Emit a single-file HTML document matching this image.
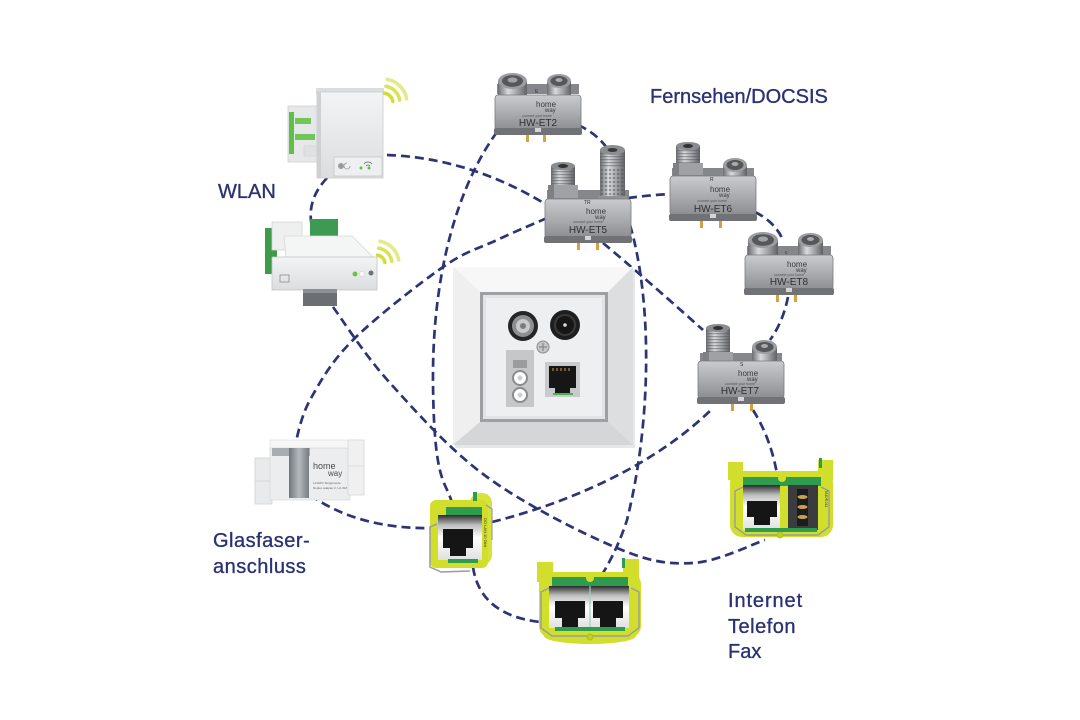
<!DOCTYPE html>
<html><head><meta charset="utf-8">
<style>
html,body{margin:0;padding:0;background:#fff;}
svg{display:block;}
text{font-family:"Liberation Sans",sans-serif;}
.lbl{font-size:20px;fill:#2b3273;stroke:#2b3273;stroke-width:0.35;}
.hw{font-size:10px;fill:#2e2f31;}
.logo{font-size:8px;fill:#3a3b3d;}
.tiny{font-size:3.5px;fill:#555;}
</style></head><body>
<svg width="1080" height="720" viewBox="0 0 1080 720" xmlns="http://www.w3.org/2000/svg">
<defs>
 <linearGradient id="bodyG" x1="0" y1="0" x2="0" y2="1">
  <stop offset="0" stop-color="#c9cbce"/><stop offset="0.55" stop-color="#a8aaad"/><stop offset="1" stop-color="#8b8d91"/>
 </linearGradient>
 <linearGradient id="cylG" x1="0" y1="0" x2="1" y2="0">
  <stop offset="0" stop-color="#6c6e72"/><stop offset="0.35" stop-color="#d8dadc"/><stop offset="0.65" stop-color="#a3a5a8"/><stop offset="1" stop-color="#5f6165"/>
 </linearGradient>
 <linearGradient id="whiteG" x1="0" y1="0" x2="0" y2="1">
  <stop offset="0" stop-color="#f3f4f5"/><stop offset="1" stop-color="#dcdddf"/>
 </linearGradient>
 <linearGradient id="rjG" x1="0" y1="0" x2="0" y2="1">
  <stop offset="0" stop-color="#2a2a2a"/><stop offset="0.22" stop-color="#bdbdbd"/><stop offset="0.5" stop-color="#ffffff"/><stop offset="1" stop-color="#e0e0e0"/>
 </linearGradient>
 <linearGradient id="bandG" x1="0" y1="0" x2="1" y2="0">
  <stop offset="0" stop-color="#6f757a"/><stop offset="0.5" stop-color="#b4babe"/><stop offset="1" stop-color="#767c81"/>
 </linearGradient>
 <pattern id="thread" width="4" height="3" patternUnits="userSpaceOnUse">
  <rect width="4" height="1.2" fill="#55585c" opacity="0.5"/>
 </pattern>
 <pattern id="knurl" width="4" height="4" patternUnits="userSpaceOnUse">
  <circle cx="2" cy="2" r="1.1" fill="#4a4a4a" opacity="0.55"/>
 </pattern>
</defs>

<!-- dashed connectors -->
<g fill="none" stroke="#2b3474" stroke-width="2.7" stroke-dasharray="9 5">
 <path d="M387,155 Q470,158 547,205"/>
 <path d="M327,178 Q306,200 312,227"/>
 <path d="M547,218 C538.7,221.7 514.3,231.8 497,240 C479.7,248.2 467,250.3 443,267 C419,283.7 375.2,317.8 353,340 C330.8,362.2 319.7,382.5 310,400 C300.3,417.5 297.5,437.5 295,445"/>
 <path d="M310,495 Q360,530 435,528"/>
 <path d="M497,132 C455,190 432,280 433,383 S446,480 452,503"/>
 <path d="M333,307 C342.5,319.7 364.3,354.7 390,383 C415.7,411.3 449.2,449.5 487,477 C524.8,504.5 582.7,533.7 617,548 C651.3,562.3 668.3,564.3 693,563 C717.7,561.7 753,543.8 765,540"/>
 <path d="M492,522 C560,505 650,470 713,408"/>
 <path d="M603,243 Q645,278 703,330"/>
 <path d="M630,225 C652,300 652,420 627,520 Q618,548 603,573"/>
 <path d="M578,125 Q596,133 607,148"/>
 <path d="M628,198 Q650,195 672,194"/>
 <path d="M755,212 Q775,222 783,240"/>
 <path d="M788,297 Q783,322 770,340"/>
 <path d="M753,410 Q772,440 778,480"/>
 <path d="M473,567 Q480,615 540,622"/>
</g>

<!-- WLAN upper module -->
<g>
 <rect x="288" y="106" width="34" height="56" fill="#e6e7e8" stroke="#d0d1d3" stroke-width="0.8"/>
 <rect x="289" y="112" width="5" height="42" fill="#5fbf4b"/>
 <rect x="295" y="118" width="16" height="6" fill="#6fc757"/>
 <rect x="295" y="134" width="20" height="6" fill="#6fc757"/>
 <rect x="304" y="146" width="14" height="10" fill="#e0e1e2" stroke="#cfd0d2" stroke-width="0.6"/>
 <rect x="316" y="88" width="68" height="6" fill="#dcdddf"/>
 <rect x="317" y="92" width="66" height="86" fill="url(#whiteG)" stroke="#cbccce" stroke-width="0.8"/>
 <rect x="317" y="92" width="4" height="86" fill="#cfd0d2"/>
 <rect x="334" y="157" width="48" height="19" fill="#eeeff0" stroke="#c8c9cb" stroke-width="0.8"/>
 <circle cx="341" cy="166" r="3" fill="#9a9b9d"/>
 <path d="M347,163 a3,3 0 1,0 3,3" fill="none" stroke="#999" stroke-width="0.8"/>
 <circle cx="361" cy="168" r="1.5" fill="#5fbf4b"/>
 <circle cx="369" cy="168" r="1.5" fill="#5fbf4b"/>
 <path d="M364,164 a5,5 0 0,1 8,0 M366,166 a2.5,2.5 0 0,1 4,0" fill="none" stroke="#666" stroke-width="0.8"/>
 <g fill="none" stroke-width="3.6" stroke-linecap="round">
  <path d="M384.7,93.2 A10,10 0 0,1 392.8,101.3" stroke="#d3dd3a"/>
  <path d="M386,86.3 A17,17 0 0,1 399.7,100" stroke="#dbe35a"/>
  <path d="M387.2,79.4 A24,24 0 0,1 406.6,98.8" stroke="#e4ea8c"/>
 </g>
</g>

<!-- WLAN lower module -->
<g>
 <rect x="265" y="228" width="12" height="46" fill="#3f9a4a"/>
 <rect x="272" y="222" width="30" height="28" fill="#eef0f0" stroke="#d3d4d6" stroke-width="0.8"/>
 <rect x="310" y="219" width="28" height="20" fill="#3c9a52"/>
 <polygon points="284,236 352,236 374,258 286,258" fill="#f4f5f5" stroke="#d6d7d9" stroke-width="0.8"/>
 <rect x="272" y="257" width="105" height="33" fill="url(#whiteG)" stroke="#c3c4c6" stroke-width="0.8"/>
 <rect x="303" y="289" width="34" height="17" fill="#6b6e72"/>
 <rect x="303" y="289" width="34" height="4" fill="#8c8f93"/>
 <rect x="280" y="275" width="9" height="7" fill="none" stroke="#8a8b8d" stroke-width="0.8"/>
 <circle cx="355" cy="274" r="2.5" fill="#6cc24a"/>
 <circle cx="362" cy="274" r="2.5" fill="#ffffff" stroke="#d0d0d0" stroke-width="0.6"/>
 <circle cx="371" cy="273" r="2.5" fill="#6e7073"/>
 <g fill="none" stroke-width="3.6" stroke-linecap="round">
  <path d="M377.6,255.1 A9,9 0 0,1 384.9,262.4" stroke="#d3dd3a"/>
  <path d="M378.8,248.2 A16,16 0 0,1 391.8,261.2" stroke="#dbe35a"/>
  <path d="M380,241.3 A23,23 0 0,1 398.7,260" stroke="#e4ea8c"/>
 </g>
</g>

<!-- Wall socket -->
<g>
 <rect x="455" y="270" width="180" height="178" fill="#d6d7d9" opacity="0.6"/>
 <rect x="453" y="267" width="180" height="178" rx="3" fill="#e9eaeb"/>
 <polygon points="453,267 633,267 608,292 480,292" fill="#f7f7f8"/>
 <polygon points="453,267 480,292 480,422 453,445" fill="#efeff0"/>
 <polygon points="633,267 633,445 608,422 608,292" fill="#dddee0"/>
 <polygon points="453,445 633,445 608,422 480,422" fill="#d5d6d8"/>
 <rect x="480" y="292" width="128" height="130" fill="#9d9fa2"/>
 <rect x="483" y="295" width="122" height="124" fill="#e2e3e4"/>
 <rect x="486" y="298" width="116" height="118" fill="#eeeff0"/>
 <circle cx="523" cy="326" r="15" fill="#262626"/>
 <circle cx="523" cy="326" r="11" fill="#8e8f91"/>
 <circle cx="523" cy="326" r="7" fill="#c8c9ca"/>
 <circle cx="523" cy="326" r="3" fill="#7a7b7d"/>
 <circle cx="565" cy="325" r="15" fill="#1e1e1e"/>
 <circle cx="565" cy="325" r="11" fill="#3a3a3a"/>
 <circle cx="565" cy="325" r="9" fill="#161616"/>
 <circle cx="565" cy="325" r="1.8" fill="#dddddd"/>
 <circle cx="543" cy="347" r="6" fill="#c4c5c7" stroke="#8b8c8e" stroke-width="1"/>
 <path d="M539,347 h8 M543,343 v8" stroke="#7a7b7d" stroke-width="1"/>
 <rect x="506" y="350" width="28" height="57" fill="#c5c7c9"/>
 <rect x="513" y="360" width="14" height="8" fill="#9a9b9d"/>
 <circle cx="520" cy="378" r="7" fill="#ffffff" stroke="#8a8b8d" stroke-width="2"/>
 <circle cx="520" cy="378" r="2.5" fill="#cfcfcf"/>
 <circle cx="520" cy="395" r="7" fill="#ffffff" stroke="#8a8b8d" stroke-width="2"/>
 <circle cx="520" cy="395" r="2.5" fill="#cfcfcf"/>
 <rect x="545" y="362" width="35" height="35" fill="#c9cacc"/>
 <path d="M549,366 h27 v22 h-6 v5 h-15 v-5 h-6 z" fill="#161616"/>
 <path d="M553,368 v3 M557,368 v3 M561,368 v3 M565,368 v3 M569,368 v3" stroke="#c9a24a" stroke-width="1"/>
 <rect x="553" y="393" width="20" height="2" fill="#4caf50"/>
</g>

<!-- HW-ET2 -->
<g>
 <rect x="497" y="84" width="82" height="10" fill="#85878b"/>
 <rect x="498" y="81" width="29" height="20" fill="url(#cylG)"/>
 <ellipse cx="512.5" cy="81" rx="14.5" ry="8" fill="#9b9da0"/>
 <ellipse cx="512.5" cy="81" rx="10.5" ry="5.8" fill="#55575a"/>
 <ellipse cx="512.5" cy="80" rx="5" ry="2.6" fill="#a0a2a5"/>
 <rect x="547" y="81" width="24" height="18" fill="url(#cylG)"/>
 <ellipse cx="559" cy="81" rx="12" ry="7" fill="#9b9da0"/>
 <ellipse cx="559" cy="81" rx="8.5" ry="5" fill="#55575a"/>
 <ellipse cx="559" cy="80" rx="3.5" ry="2" fill="#aaaaaa"/>
 <rect x="495" y="95" width="86" height="35" rx="3" fill="url(#bodyG)" stroke="#7a7c80" stroke-width="0.8"/>
 <text x="535" y="93" font-size="5" fill="#333">E</text>
 <text x="536" y="107" class="logo">home</text>
 <text x="545" y="112" font-size="6" fill="#3a3b3d">way</text>
 <text x="537" y="117" class="tiny" text-anchor="middle">connect your home</text>
 <text x="538" y="126" class="hw" text-anchor="middle">HW-ET2</text>
 <rect x="494" y="128" width="88" height="7" rx="2" fill="#707276"/>
 <rect x="535" y="128" width="6" height="4" fill="#d5d5d5"/>
 <rect x="526" y="135" width="3" height="7" fill="#d6a040"/>
 <rect x="543" y="135" width="3" height="7" fill="#d6a040"/>
</g>

<!-- HW-ET5 -->
<g>
 <rect x="547" y="190" width="82" height="10" fill="#85878b"/>
 <rect x="551" y="166" width="24" height="22" fill="url(#cylG)"/>
 <rect x="551" y="166" width="24" height="22" fill="url(#thread)"/>
 <ellipse cx="563" cy="166" rx="12" ry="4" fill="#8a8c8f"/>
 <ellipse cx="563" cy="166" rx="5" ry="2" fill="#333"/>
 <rect x="548" y="185" width="30" height="13" fill="#9fa1a4"/>
 <rect x="548" y="185" width="6" height="13" fill="#7e8084"/>
 <rect x="600" y="150" width="25" height="52" fill="url(#cylG)"/>
 <rect x="600" y="150" width="25" height="18" fill="url(#thread)"/>
 <rect x="600" y="168" width="25" height="30" fill="url(#knurl)"/>
 <ellipse cx="612.5" cy="150" rx="12.5" ry="5" fill="#8c8e91"/>
 <ellipse cx="612.5" cy="150" rx="5" ry="2" fill="#3a3a3a"/>
 <rect x="598" y="196" width="29" height="8" fill="#8f9195"/>
 <rect x="545" y="199" width="86" height="39" rx="3" fill="url(#bodyG)" stroke="#7a7c80" stroke-width="0.8"/>
 <text x="584" y="204" font-size="5" fill="#333">TR</text>
 <text x="586" y="214" class="logo">home</text>
 <text x="595" y="219" font-size="6" fill="#3a3b3d">way</text>
 <text x="588" y="223" class="tiny" text-anchor="middle">connect your home</text>
 <text x="588" y="233" class="hw" text-anchor="middle">HW-ET5</text>
 <rect x="544" y="236" width="88" height="7" rx="2" fill="#707276"/>
 <rect x="585" y="236" width="6" height="4" fill="#d5d5d5"/>
 <rect x="577" y="243" width="3" height="7" fill="#d6a040"/>
 <rect x="596" y="243" width="3" height="7" fill="#d6a040"/>
</g>

<!-- HW-ET6 -->
<g>
 <rect x="672" y="168" width="82" height="10" fill="#85878b"/>
 <rect x="676" y="146" width="24" height="20" fill="url(#cylG)"/>
 <rect x="676" y="146" width="24" height="20" fill="url(#thread)"/>
 <ellipse cx="688" cy="146" rx="12" ry="4" fill="#8a8c8f"/>
 <ellipse cx="688" cy="146" rx="5" ry="2" fill="#333"/>
 <rect x="673" y="163" width="30" height="12" fill="#9fa1a4"/>
 <rect x="673" y="163" width="6" height="12" fill="#7e8084"/>
 <rect x="723" y="165" width="24" height="18" fill="url(#cylG)"/>
 <ellipse cx="735" cy="165" rx="12" ry="7" fill="#9b9da0"/>
 <ellipse cx="735" cy="165" rx="8.5" ry="5" fill="#55575a"/>
 <ellipse cx="735" cy="164" rx="3.5" ry="2" fill="#aaaaaa"/>
 <rect x="670" y="176" width="86" height="39" rx="3" fill="url(#bodyG)" stroke="#7a7c80" stroke-width="0.8"/>
 <text x="710" y="181" font-size="5" fill="#333">R</text>
 <text x="710" y="192" class="logo">home</text>
 <text x="719" y="197" font-size="6" fill="#3a3b3d">way</text>
 <text x="712" y="202" class="tiny" text-anchor="middle">connect your home</text>
 <text x="713" y="212" class="hw" text-anchor="middle">HW-ET6</text>
 <rect x="669" y="214" width="88" height="7" rx="2" fill="#707276"/>
 <rect x="710" y="214" width="6" height="4" fill="#d5d5d5"/>
 <rect x="700" y="221" width="3" height="7" fill="#d6a040"/>
 <rect x="719" y="221" width="3" height="7" fill="#d6a040"/>
</g>

<!-- HW-ET8 -->
<g>
 <rect x="747" y="246" width="84" height="10" fill="#85878b"/>
 <rect x="748" y="240" width="30" height="18" fill="url(#cylG)"/>
 <ellipse cx="763" cy="240" rx="15" ry="8" fill="#9b9da0"/>
 <ellipse cx="763" cy="240" rx="11" ry="5.8" fill="#55575a"/>
 <ellipse cx="763" cy="239" rx="5" ry="2.6" fill="#a0a2a5"/>
 <rect x="798" y="240" width="25" height="17" fill="url(#cylG)"/>
 <ellipse cx="810.5" cy="240" rx="12.5" ry="7" fill="#9b9da0"/>
 <ellipse cx="810.5" cy="240" rx="9" ry="5" fill="#55575a"/>
 <ellipse cx="810.5" cy="239" rx="3.5" ry="2" fill="#aaaaaa"/>
 <rect x="745" y="255" width="88" height="35" rx="3" fill="url(#bodyG)" stroke="#7a7c80" stroke-width="0.8"/>
 <text x="785" y="254" font-size="5" fill="#333">c</text>
 <text x="787" y="267" class="logo">home</text>
 <text x="796" y="272" font-size="6" fill="#3a3b3d">way</text>
 <text x="789" y="276" class="tiny" text-anchor="middle">connect your home</text>
 <text x="789" y="285" class="hw" text-anchor="middle">HW-ET8</text>
 <rect x="744" y="288" width="90" height="7" rx="2" fill="#707276"/>
 <rect x="786" y="288" width="6" height="4" fill="#d5d5d5"/>
 <rect x="776" y="295" width="3" height="7" fill="#d6a040"/>
 <rect x="794" y="295" width="3" height="7" fill="#d6a040"/>
</g>

<!-- HW-ET7 -->
<g>
 <rect x="700" y="353" width="82" height="10" fill="#85878b"/>
 <rect x="706" y="328" width="24" height="26" fill="url(#cylG)"/>
 <rect x="706" y="328" width="24" height="26" fill="url(#thread)"/>
 <ellipse cx="718" cy="328" rx="12" ry="4" fill="#8a8c8f"/>
 <ellipse cx="718" cy="328" rx="5" ry="2" fill="#333"/>
 <rect x="703" y="352" width="30" height="14" fill="#9fa1a4"/>
 <rect x="703" y="352" width="6" height="14" fill="#7e8084"/>
 <rect x="752" y="347" width="25" height="18" fill="url(#cylG)"/>
 <ellipse cx="764.5" cy="347" rx="12.5" ry="7" fill="#9b9da0"/>
 <ellipse cx="764.5" cy="347" rx="9" ry="5" fill="#55575a"/>
 <ellipse cx="764.5" cy="346" rx="3.5" ry="2" fill="#aaaaaa"/>
 <rect x="698" y="361" width="86" height="37" rx="3" fill="url(#bodyG)" stroke="#7a7c80" stroke-width="0.8"/>
 <text x="740" y="366" font-size="5" fill="#333">S</text>
 <text x="738" y="376" class="logo">home</text>
 <text x="747" y="381" font-size="6" fill="#3a3b3d">way</text>
 <text x="740" y="385" class="tiny" text-anchor="middle">connect your home</text>
 <text x="740" y="394" class="hw" text-anchor="middle">HW-ET7</text>
 <rect x="697" y="397" width="88" height="7" rx="2" fill="#707276"/>
 <rect x="738" y="397" width="6" height="4" fill="#d5d5d5"/>
 <rect x="731" y="404" width="3" height="7" fill="#d6a040"/>
 <rect x="750" y="404" width="3" height="7" fill="#d6a040"/>
</g>

<!-- Glasfaser module -->
<g>
 <rect x="255" y="458" width="17" height="46" fill="#e9eaeb" stroke="#cfd0d2" stroke-width="0.8"/>
 <line x1="255" y1="481" x2="272" y2="481" stroke="#cfd0d2" stroke-width="0.8"/>
 <rect x="270" y="440" width="84" height="10" fill="#f6f6f6" stroke="#dadbdc" stroke-width="0.6"/>
 <rect x="270" y="448" width="80" height="52" fill="#ecedee" stroke="#d3d4d6" stroke-width="0.6"/>
 <rect x="272" y="448" width="38" height="8" fill="#a7adb1"/>
 <rect x="289" y="448" width="20" height="50" fill="url(#bandG)"/>
 <rect x="348" y="440" width="16" height="55" fill="#f0f0f0" stroke="#d6d7d8" stroke-width="0.8"/>
 <line x1="348" y1="466" x2="364" y2="466" stroke="#d6d7d8" stroke-width="0.8"/>
 <text x="313" y="469" font-size="9" fill="#4a4b4d">home</text>
 <text x="328" y="476" font-size="8" fill="#4a4b4d">way</text>
 <text x="313" y="484" font-size="3" fill="#666">LC/APC Singlemode</text>
 <text x="313" y="489" font-size="3" fill="#666">Duplex adapter 2, LC-SM</text>
</g>

<!-- single keystone -->
<g>
 <rect x="470" y="493" width="22" height="72" rx="10" fill="#d8e33a"/>
 <rect x="430" y="500" width="58" height="68" rx="6" fill="#d2de2c"/>
 <rect x="473" y="492" width="4" height="9" fill="#2f9b4e"/>
 <rect x="446" y="507" width="36" height="8" fill="#2f9b4e"/>
 <rect x="438" y="515" width="44" height="45" fill="url(#rjG)"/>
 <path d="M443,529 h30 v19 h-7 v8 h-16 v-8 h-7 z" fill="#151515"/>
 <rect x="448" y="559" width="30" height="4" fill="#2f9b4e"/>
 <path d="M437,524 L430,527 L430,567 L441,572 L470,571" fill="none" stroke="#9a9c9e" stroke-width="1.5"/>
 <path d="M486,505 L492,509 L492,540" fill="none" stroke="#9a9c9e" stroke-width="1.2"/>
 <text transform="translate(484,518) rotate(90)" font-size="4" fill="#333">DO LAN 10 Gbit</text>
</g>

<!-- dual keystone -->
<g>
 <rect x="537" y="562" width="16" height="20" fill="#d2de2c"/>
 <rect x="623" y="559" width="16" height="22" fill="#d2de2c"/>
 <rect x="622" y="558" width="3" height="10" fill="#2f9b4e"/>
 <rect x="539" y="572" width="102" height="66" rx="12" fill="#d2de2c"/>
 <ellipse cx="590" cy="636" rx="46" ry="8" fill="#d2de2c"/>
 <rect x="552" y="577" width="76" height="9" fill="#2f9b4e"/>
 <circle cx="590" cy="578" r="4" fill="#d2de2c"/>
 <rect x="549" y="586" width="80" height="42" fill="url(#rjG)"/>
 <line x1="590" y1="586" x2="590" y2="628" stroke="#9fd3c0" stroke-width="1.2"/>
 <path d="M555,601 h30 v17 h-7 v9 h-16 v-9 h-7 z" fill="#151515"/>
 <path d="M593,601 h30 v17 h-7 v9 h-16 v-9 h-7 z" fill="#151515"/>
 <rect x="555" y="627" width="70" height="4" fill="#2f9b4e"/>
 <path d="M549,588 L541,592 L541,628 L552,636 L628,636 L639,628 L639,592 L631,588" fill="none" stroke="#9a9c9e" stroke-width="1.4"/>
 <circle cx="590" cy="637" r="3" fill="#c3cf20" stroke="#a9b51a" stroke-width="0.8"/>
</g>

<!-- internet keystone -->
<g>
 <rect x="728" y="462" width="15" height="18" fill="#d2de2c"/>
 <rect x="818" y="460" width="15" height="20" fill="#d2de2c"/>
 <rect x="819" y="458" width="3" height="10" fill="#2f9b4e"/>
 <rect x="730" y="471" width="103" height="66" rx="12" fill="#d2de2c"/>
 <rect x="743" y="477" width="78" height="9" fill="#2f9b4e"/>
 <circle cx="782" cy="478" r="4" fill="#d2de2c"/>
 <rect x="743" y="485" width="37" height="45" fill="url(#rjG)"/>
 <path d="M747,501 h30 v16 h-7 v8 h-16 v-8 h-7 z" fill="#151515"/>
 <rect x="788" y="485" width="30" height="45" fill="#3a3c3e"/>
 <rect x="797" y="489" width="11" height="37" fill="#1c1c1c"/>
 <ellipse cx="802.5" cy="497" rx="5" ry="2" fill="#c9a050"/>
 <ellipse cx="802.5" cy="507" rx="5" ry="2" fill="#c9a050"/>
 <ellipse cx="802.5" cy="517" rx="5" ry="2" fill="#c9a050"/>
 <rect x="745" y="528" width="72" height="4" fill="#2f9b4e"/>
 <path d="M743,487 L735,491 L735,527 L746,535 L818,535 L829,527 L829,491 L821,487" fill="none" stroke="#9a9c9e" stroke-width="1.4"/>
 <circle cx="780" cy="535" r="3" fill="#c3cf20" stroke="#a9b51a" stroke-width="0.8"/>
 <text transform="translate(825,490) rotate(90)" font-size="4" fill="#333">TAE/RJ11</text>
</g>

<!-- labels -->
<text x="218" y="198" class="lbl">WLAN</text>
<text x="650" y="103" class="lbl">Fernsehen/DOCSIS</text>
<text x="213" y="547" class="lbl" letter-spacing="0.5">Glasfaser-</text>
<text x="213" y="573" class="lbl" letter-spacing="0.5">anschluss</text>
<text x="728" y="607" class="lbl" letter-spacing="0.9">Internet</text>
<text x="728" y="633" class="lbl" letter-spacing="0.5">Telefon</text>
<text x="728" y="658" class="lbl">Fax</text>
</svg>
</body></html>
